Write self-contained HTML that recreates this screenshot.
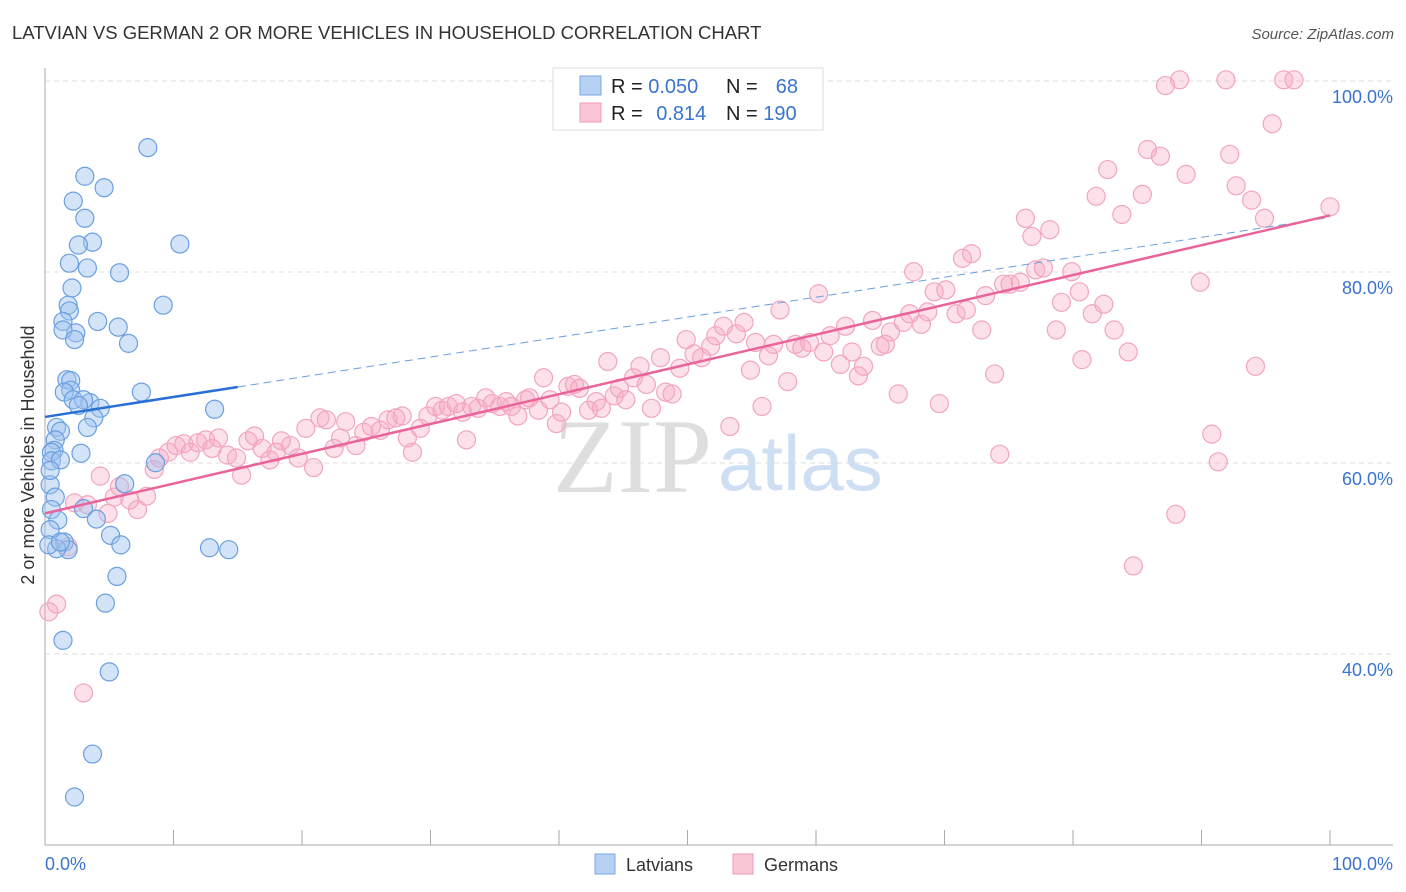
<!DOCTYPE html>
<html><head><meta charset="utf-8"><style>
body{margin:0;background:#fff;font-family:"Liberation Sans",sans-serif;}
#wrap{position:relative;width:1406px;height:892px;overflow:hidden;}
</style></head><body>
<div id="wrap">
<svg id="svg" width="1406" height="892" xmlns="http://www.w3.org/2000/svg">
<text x="12" y="39" font-size="18.5" fill="#333">LATVIAN VS GERMAN 2 OR MORE VEHICLES IN HOUSEHOLD CORRELATION CHART</text>
<text x="1394" y="39" font-size="15" fill="#555" font-style="italic" text-anchor="end">Source: ZipAtlas.com</text>
<text x="553" y="492" font-size="106" fill="#dedede" font-family="Liberation Serif,serif">ZIP</text>
<text x="718" y="490" font-size="78" fill="#cfdff3">atlas</text>
<g id="grid"></g><g id="axes"></g><g id="pts"></g><g id="lines"></g>
<text x="34" y="455" font-size="18" fill="#333" text-anchor="middle" transform="rotate(-90 34 455)">2 or more Vehicles in Household</text>
<g>
<rect x="553" y="68" width="270" height="62" fill="#fff" stroke="#ddd"/>
<rect x="580" y="76" width="21" height="19" fill="#b7d1f3" stroke="#7aa8e6"/>
<rect x="580" y="103" width="21" height="19" fill="#f9c6d6" stroke="#f09ab5"/>
<text x="611" y="93" font-size="20" fill="#222">R = <tspan fill="#3a74d0">0.050</tspan></text>
<text x="726" y="93" font-size="20" fill="#222">N =</text><text x="798" y="93" font-size="20" fill="#3a74d0" text-anchor="end">68</text>
<text x="611" y="120" font-size="20" fill="#222">R = <tspan fill="#3a74d0" dx="8">0.814</tspan></text>
<text x="726" y="120" font-size="20" fill="#222">N = <tspan fill="#3a74d0">190</tspan></text>
</g>
<g>
<rect x="595" y="854" width="20" height="20" fill="#b7d1f3" stroke="#7aa8e6"/>
<text x="626" y="871" font-size="18" fill="#333">Latvians</text>
<rect x="733" y="854" width="20" height="20" fill="#f9c6d6" stroke="#f09ab5"/>
<text x="764" y="871" font-size="18" fill="#333">Germans</text>
</g>
</svg>
</div>
<script>
const yTicks=[100,80,60,40];
const yTickLabels=["100.0%","80.0%","60.0%","40.0%"];
const xTickLabels=["0.0%","100.0%"];
const blueX=[8.0,3.1,4.6,2.2,3.1,3.7,10.5,2.6,1.9,3.3,5.8,2.1,9.2,1.8,1.9,4.1,1.4,5.7,2.4,1.4,2.3,6.5,1.7,2.0,2.0,1.5,7.5,2.2,3.5,3.0,2.6,4.3,13.2,3.8,3.3,0.9,1.2,0.8,0.7,0.5,0.5,1.2,2.8,8.6,0.4,0.8,0.5,3.0,6.2,4.0,1.0,5.1,1.5,5.9,1.8,0.9,12.8,14.3,5.6,4.7,1.4,5.0,3.7,2.3,0.4,0.4,0.3,1.2];
const blueY=[94.7,91.7,90.5,89.1,87.3,84.8,84.6,84.5,82.6,82.1,81.6,80.0,78.2,78.2,77.6,76.5,76.5,75.9,75.3,75.6,74.6,74.2,70.4,70.3,69.3,69.1,69.1,68.3,68.0,68.3,67.7,67.4,67.3,66.4,65.4,65.4,65.0,64.1,63.0,62.8,61.9,62.0,62.7,61.7,59.4,58.1,56.8,56.9,59.5,55.8,55.7,54.1,53.4,53.1,52.6,52.7,52.8,52.6,49.8,47.0,43.1,39.8,31.2,26.7,60.9,54.7,53.1,53.4];
const pinkX=[0.3,0.9,3.0,1.8,2.3,3.3,4.3,4.9,5.4,5.8,6.6,7.2,7.9,8.5,8.9,9.6,10.2,10.8,11.3,11.9,12.5,13.0,13.5,14.2,14.9,15.3,15.8,16.3,16.9,17.5,18.0,18.4,19.1,19.7,20.3,20.9,21.4,21.9,22.5,23.0,23.4,24.2,24.8,25.4,26.1,26.7,27.3,27.8,28.2,28.6,29.2,29.8,30.4,30.9,31.4,32.0,32.5,32.8,33.2,33.7,34.3,34.8,35.4,35.9,36.3,36.8,37.4,37.7,38.4,38.8,39.3,39.8,40.2,40.7,41.2,41.6,42.3,42.9,43.3,43.8,44.3,44.7,45.2,45.8,46.3,46.8,47.2,47.9,48.3,48.8,49.4,49.9,50.5,51.1,51.8,52.2,52.8,53.3,53.8,54.4,54.9,55.3,55.8,56.3,56.7,57.2,57.8,58.4,58.9,59.5,60.2,60.6,61.1,61.9,62.3,62.8,63.3,63.7,64.4,65.0,65.4,65.8,66.4,66.8,67.3,67.6,68.2,68.7,69.2,69.6,70.1,70.9,71.4,71.7,72.1,72.9,73.2,73.9,74.3,74.6,75.1,75.9,76.3,76.8,77.1,77.7,78.2,78.7,79.1,79.9,80.5,80.7,81.5,81.8,82.4,82.7,83.2,83.8,84.3,84.7,85.4,85.8,86.8,87.2,88.0,88.3,88.8,89.9,90.8,91.3,91.9,92.2,92.7,93.9,94.2,94.9,95.5,96.4,97.2,100];
const pinkY=[46.1,46.9,37.6,52.9,57.5,57.3,60.3,56.4,58.1,59.2,57.8,56.8,58.2,61.0,62.2,62.8,63.5,63.7,62.8,63.8,64.1,63.2,64.3,62.5,62.2,60.4,64.0,64.5,63.2,62.0,62.8,64.0,63.5,62.2,65.3,61.2,66.4,66.2,63.2,64.3,66.0,63.5,64.9,65.5,65.1,66.2,66.4,66.6,64.3,62.8,65.3,66.6,67.6,67.2,67.6,67.9,67.0,64.1,67.6,67.4,68.5,67.9,67.6,68.1,67.6,66.6,68.3,68.5,67.2,70.6,68.3,65.8,67.0,69.7,69.9,69.5,67.2,68.1,67.4,72.3,68.7,69.5,68.3,70.6,71.8,69.9,67.4,72.7,69.1,68.9,71.6,74.6,73.1,72.7,73.9,75.0,76.0,65.5,75.2,76.4,71.4,74.3,67.6,72.9,74.1,77.7,70.2,74.1,73.7,74.3,79.4,73.3,75.0,72.0,76.0,73.3,70.8,71.8,76.6,73.9,74.1,75.4,68.9,76.4,77.3,81.7,76.2,77.5,79.6,67.9,79.8,77.3,83.1,77.7,83.6,75.6,79.2,71.0,62.6,80.4,80.4,80.6,87.3,85.4,81.9,82.1,86.1,75.6,78.5,81.7,79.6,72.5,77.3,89.6,78.3,92.4,75.6,87.7,73.3,50.9,89.8,94.5,93.8,101.2,56.3,101.8,91.9,80.6,64.7,61.8,101.8,94.0,90.7,89.2,71.8,87.3,97.2,101.8,101.8,88.5];
const blueTrend=[66.5,87.4];
const pinkTrend=[56.4,87.6];
const NS="http://www.w3.org/2000/svg";
function xS(v){return 45+12.85*v;}
function yS(v){return 1052-9.55*v;}
function mk(tag,attrs,parent){const e=document.createElementNS(NS,tag);for(const k in attrs)e.setAttribute(k,attrs[k]);parent.appendChild(e);return e;}
const grid=document.getElementById('grid'),axes=document.getElementById('axes'),pts=document.getElementById('pts'),lines=document.getElementById('lines');
yTicks.forEach((t,i)=>{
 const gy=yS(t)-16;
 const l=mk('line',{x1:45,x2:1393,y1:gy,y2:gy,stroke:'#ddd','stroke-dasharray':'5 4'},grid);
 
 
 const tx=mk('text',{x:1393,y:yS(t)+6,'font-size':18,fill:'#3a74d0','text-anchor':'end'},grid);
 tx.textContent=yTickLabels[i];
 
 
});
const ya=mk('line',{x1:45,x2:45,y1:68,y2:845,stroke:'#aaa'},axes);


const xa=mk('line',{x1:45,x2:1393,y1:845,y2:845,stroke:'#aaa'},axes);


for(let i=0;i<=10;i++){
 const t=mk('line',{x1:xS(i*10),x2:xS(i*10),y1:830,y2:845,stroke:'#aaa'},axes);
 
 
}
const xl0=mk('text',{x:45,y:870,'font-size':18,fill:'#3a74d0'},axes);xl0.textContent=xTickLabels[0];


const xl1=mk('text',{x:1393,y:870,'font-size':18,fill:'#3a74d0','text-anchor':'end'},axes);xl1.textContent=xTickLabels[1];


pinkX.forEach((x,i)=>{
 const c=mk('circle',{cx:xS(x),cy:yS(pinkY[i]),r:9,fill:'rgba(246,170,196,0.35)',stroke:'#f2a5be','stroke-width':1.2},pts);
 
 
});
blueX.forEach((x,i)=>{
 const c=mk('circle',{cx:xS(x),cy:yS(blueY[i]),r:9,fill:'rgba(160,196,240,0.45)',stroke:'#6a9fe0','stroke-width':1.2},pts);
 
 
});
function ty(tr,x){return tr[0]+(tr[1]-tr[0])*x/100;}
const bs=mk('line',{x1:xS(0),y1:yS(ty(blueTrend,0)),x2:xS(15),y2:yS(ty(blueTrend,15)),stroke:'#2a6fd6','stroke-width':2.5},lines);


const bd=mk('line',{x1:xS(15),y1:yS(ty(blueTrend,15)),x2:xS(100),y2:yS(ty(blueTrend,100)),stroke:'#6a9fe0','stroke-width':1,'stroke-dasharray':'8 5'},lines);


const pl=mk('line',{x1:xS(0),y1:yS(ty(pinkTrend,0)),x2:xS(100),y2:yS(ty(pinkTrend,100)),stroke:'#e8649a','stroke-width':2.5},lines);


</script>
</body></html>
